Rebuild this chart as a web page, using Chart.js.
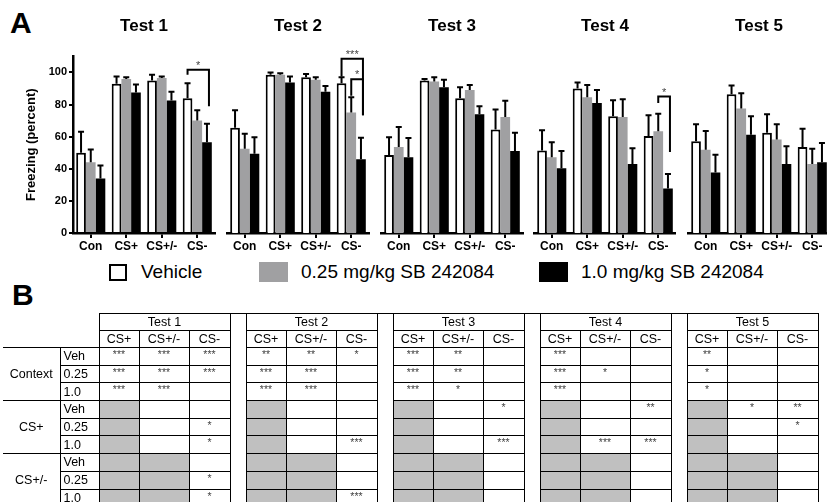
<!DOCTYPE html>
<html>
<head>
<meta charset="utf-8">
<script src="https://cdn.jsdelivr.net/npm/chart.js@4.4.1/dist/chart.umd.min.js"></script>
<style>
  body { margin: 0; background: #fff; font-family: "Liberation Sans", Arial, sans-serif; }
  #page { position: relative; width: 827px; height: 502px; overflow: hidden; background: #fff; }
  .letter { position: absolute; font-weight: bold; font-size: 30px; line-height: 1; }
  canvas.test { position: absolute; top: 0; }
  .legend-item { position: absolute; top: 262px; height: 20px; display: flex; align-items: center; font-size: 19px; white-space: nowrap; }
  .legend-box { box-sizing: border-box; margin-right: 13px; }
  #sig { position: absolute; left: 3px; top: 313px; border-collapse: collapse; table-layout: fixed; width: 815px; font-size: 12.5px; color: #000; will-change: transform; }
  #sig td { padding: 0; height: 16px; line-height: 14px; text-align: center; white-space: nowrap; overflow: hidden; }
  #sig tr.data td { height: 15.7px; }
  #sig td.hd { border: 1px solid #000; }
  #sig td.top { border-top: 1.5px solid #000; }
  #sig td.sp { border-left: 1px solid #000; border-right: 1px solid #000; }
  #sig td.grp { border-top: 1.5px solid #000; border-bottom: 1.5px solid #000; }
  #sig td.dose { border: 1px solid #000; text-align: left; padding-left: 3px; }
  #sig td.first { border-top: 1.5px solid #000; }
  #sig td.cell { border: 1px solid #000; vertical-align: top; font-size: 10.5px; color: #444; line-height: 11px; padding-top: 1px; }
  #sig td.gray { background: #c0c0c0; }
</style>
</head>
<body>
<div id="page">
  <div class="letter" style="left:10px; top:8px;">A</div>
  <div class="letter" style="left:12px; top:280px;">B</div>
  <div id="legend"></div>
  <table id="sig"></table>
</div>
<script>
// ---- Panel A data (freezing %, mean and SEM) ----
const categories = ['Con', 'CS+', 'CS+/-', 'CS-'];
const testNames = ['Test 1', 'Test 2', 'Test 3', 'Test 4', 'Test 5'];
const doseLabels = ['Vehicle', '0.25 mg/kg SB 242084', '1.0 mg/kg SB 242084'];
const yTicks = [0, 20, 40, 60, 80, 100];

// one row per test, one value per category
const vehicleMean = [
  [50, 93, 95, 84],
  [65.5, 98.5, 97, 93.3],
  [48.6, 95, 84, 64.4],
  [51.4, 90, 72.7, 60.4],
  [57.2, 86.4, 62.5, 53.5]
];
const vehicleSem = [
  [13, 4.5, 3.5, 9.3],
  [11, 1.5, 2, 3.7],
  [11, 1, 6.8, 12.6],
  [12.6, 3.7, 10, 13],
  [10.5, 5.4, 11.5, 11.5]
];
const lowDoseMean = [
  [44, 96, 96.5, 70],
  [52.4, 98.5, 95.4, 75],
  [53.5, 94.3, 89, 72.3],
  [47.2, 84.5, 72.3, 63.3],
  [51.8, 77.6, 58.3, 43]
];
const lowDoseSem = [
  [8, 1, 1, 6.5],
  [9.4, 1, 1.6, 9.5],
  [12.5, 2.7, 3.2, 10],
  [9.4, 7.7, 11, 11],
  [11.7, 9.4, 9.4, 9.4]
];
const highDoseMean = [
  [34, 87.5, 82.5, 56.5],
  [49.3, 93.7, 88, 46],
  [47.2, 90.8, 74, 51],
  [40.3, 81, 43, 27.7],
  [37.7, 61.2, 43, 44]
];
const highDoseSem = [
  [8, 5, 5.5, 11.5],
  [10.4, 3.8, 3.6, 13.3],
  [12, 4.6, 5, 11.5],
  [10.7, 8, 9.8, 9],
  [11, 11.5, 11, 12]
];

// significance brackets: test, category, from dose, to dose, top, leg ends, label
const brackets = [
  { test: 0, cat: 3, from: 0, to: 2, top: 101.7, leftEnd: 98.6, rightEnd: 79, label: '*' },
  { test: 1, cat: 3, from: 0, to: 2, top: 108.6, leftEnd: 97.5, rightEnd: 73.4, label: '***' },
  { test: 1, cat: 3, from: 1, to: 2, top: 95.8, leftEnd: 85.5, rightEnd: 73.4, label: '*' },
  { test: 3, cat: 3, from: 1, to: 2, top: 85, leftEnd: 81, rightEnd: 50.4, label: '*' }
];

// ---- Panel B data ----
const rowGroups = ['Context', 'CS+', 'CS+/-'];
const doseRows = ['Veh', '0.25', '1.0'];
const compareCols = ['CS+', 'CS+/-', 'CS-'];
// per test: 9 rows (group x dose), 3 columns
const significance = [
  [['***','***','***'],['***','***','***'],['***','***',''],['','',''],['','','*'],['','','*'],['','',''],['','','*'],['','','*']],
  [['**','**','*'],['***','***',''],['***','***',''],['','',''],['','',''],['','','***'],['','',''],['','',''],['','','***']],
  [['***','**',''],['***','**',''],['***','*',''],['','','*'],['','',''],['','','***'],['','',''],['','',''],['','','']],
  [['***','',''],['***','*',''],['***','',''],['','','**'],['','',''],['','***','***'],['','',''],['','',''],['','','']],
  [['**','',''],['*','',''],['*','',''],['','*','**'],['','','*'],['','',''],['','',''],['','',''],['','','']]
];

// ---- layout ----
const panelLeft = [73, 227, 381, 534, 688];
const titleShift = [0, -2, -3, -6, -11];
const plotWidth = 142;
const canvasHeight = 256;
const barFill = ['#ffffff', '#a0a0a2', '#000000'];
const means = [vehicleMean, lowDoseMean, highDoseMean];
const sems = [vehicleSem, lowDoseSem, highDoseSem];
const fontFamily = '"Liberation Sans", Arial, sans-serif';

const errorBars = {
  id: 'errorBars',
  afterDatasetsDraw(chart) {
    const ctx = chart.ctx;
    const y = chart.scales.y;
    ctx.save();
    ctx.strokeStyle = '#000';
    ctx.lineWidth = 2;
    chart.data.datasets.forEach((ds, d) => {
      chart.getDatasetMeta(d).data.forEach((bar, k) => {
        const top = y.getPixelForValue(ds.data[k] + ds.errors[k]);
        const half = 3;
        ctx.beginPath();
        ctx.moveTo(bar.x, bar.y);
        ctx.lineTo(bar.x, top);
        ctx.moveTo(bar.x - half, top);
        ctx.lineTo(bar.x + half, top);
        ctx.stroke();
      });
    });
    ctx.restore();
  }
};

function bracketPlugin(list) {
  return {
    id: 'brackets',
    afterDatasetsDraw(chart) {
      const ctx = chart.ctx;
      const y = chart.scales.y;
      ctx.save();
      ctx.strokeStyle = '#000';
      ctx.lineWidth = 2;
      ctx.fillStyle = '#444';
      ctx.font = '11px ' + fontFamily;
      ctx.textAlign = 'center';
      ctx.textBaseline = 'alphabetic';
      list.forEach(b => {
        const x1 = chart.getDatasetMeta(b.from).data[b.cat].x;
        const x2 = chart.getDatasetMeta(b.to).data[b.cat].x + 2;
        const yt = y.getPixelForValue(b.top);
        ctx.beginPath();
        ctx.moveTo(x1, y.getPixelForValue(b.leftEnd));
        ctx.lineTo(x1, yt);
        ctx.lineTo(x2, yt);
        ctx.lineTo(x2, y.getPixelForValue(b.rightEnd));
        ctx.stroke();
        ctx.fillText(b.label, (x1 + x2) / 2, yt - 1);
      });
      ctx.restore();
    }
  };
}

const page = document.getElementById('page');

testNames.forEach((name, i) => {
  const first = i === 0;
  const yWidth = first ? 73 : 0;
  // asymmetric padding so the full-width title sits where the figure has it
  const padRight = first ? 6 : Math.max(0, 6 + titleShift[i]);
  const padLeft = first ? 0 : padRight - 2 * titleShift[i];
  const width = yWidth + padLeft + plotWidth + padRight;
  const canvas = document.createElement('canvas');
  canvas.className = 'test';
  canvas.width = width;
  canvas.height = canvasHeight;
  canvas.style.left = (panelLeft[i] - yWidth - padLeft) + 'px';
  canvas.style.width = width + 'px';
  canvas.style.height = canvasHeight + 'px';
  page.appendChild(canvas);

  new Chart(canvas, {
    type: 'bar',
    data: {
      labels: categories,
      datasets: doseLabels.map((label, d) => ({
        label: label,
        data: means[d][i],
        errors: sems[d][i],
        backgroundColor: barFill[d],
        borderColor: '#000',
        borderWidth: d === 0 ? 2 : 0,
        categoryPercentage: 0.82,
        barPercentage: 1.0
      }))
    },
    options: {
      responsive: false,
      animation: false,
      devicePixelRatio: 1,
      layout: { padding: { left: padLeft, right: padRight, top: 0, bottom: 0 } },
      plugins: {
        legend: { display: false },
        tooltip: { enabled: false },
        title: {
          display: true,
          text: name,
          fullSize: !first,
          color: '#000',
          font: { size: 17, weight: 'bold', family: fontFamily },
          padding: { top: 16, bottom: 20 }
        }
      },
      scales: {
        x: {
          afterFit(scale) { scale.height = 23; },
          border: { display: true, color: '#000', width: 2.5 },
          grid: { offset: false, drawOnChartArea: false, drawTicks: true, tickLength: 5, color: '#000', lineWidth: 2 },
          ticks: {
            color: '#000', padding: 1, autoSkip: false, maxRotation: 0, minRotation: 0,
            font: { size: 12, weight: 'bold', family: fontFamily }
          }
        },
        y: {
          display: first,
          min: 0,
          max: 110,
          afterFit(scale) { scale.width = yWidth; },
          afterBuildTicks(scale) { scale.ticks = yTicks.map(v => ({ value: v })); },
          border: { display: true, color: '#000', width: 2.5 },
          grid: { drawOnChartArea: false, drawTicks: true, tickLength: 4, color: '#000', lineWidth: 2 },
          ticks: { color: '#000', padding: 2, font: { size: 11, weight: 'bold', family: fontFamily } },
          title: {
            display: true,
            text: 'Freezing (percent)',
            color: '#000',
            padding: { top: 24, bottom: 0 },
            font: { size: 13, weight: 'bold', family: fontFamily }
          }
        }
      }
    },
    plugins: [errorBars, bracketPlugin(brackets.filter(b => b.test === i))]
  });
});

// ---- legend ----
const legendLeft = [109, 259, 539];
const legendBox = [
  { w: 18, h: 17, bg: '#fff', border: '2.5px solid #000' },
  { w: 29, h: 20, bg: barFill[1], border: 'none' },
  { w: 29, h: 20, bg: barFill[2], border: 'none' }
];
const legend = document.getElementById('legend');
doseLabels.forEach((label, d) => {
  const item = document.createElement('div');
  item.className = 'legend-item';
  item.style.left = legendLeft[d] + 'px';
  const box = document.createElement('span');
  box.className = 'legend-box';
  box.style.width = legendBox[d].w + 'px';
  box.style.height = legendBox[d].h + 'px';
  box.style.background = legendBox[d].bg;
  box.style.border = legendBox[d].border;
  if (d === 0) box.style.marginRight = '14px';
  item.appendChild(box);
  item.appendChild(document.createTextNode(label));
  legend.appendChild(item);
});

// ---- significance table ----
const colWidths = [57, 39];
testNames.forEach((t, i) => {
  colWidths.push(40, 50, 41);
  if (i < testNames.length - 1) colWidths.push(16);
});
let html = '<colgroup>' + colWidths.map(w => '<col style="width:' + w + 'px">').join('') + '</colgroup>';

html += '<tr><td></td><td></td>';
testNames.forEach((t, i) => {
  html += '<td colspan="3" class="hd top">' + t + '</td>';
  if (i < testNames.length - 1) html += '<td class="sp top"></td>';
});
html += '</tr><tr><td></td><td></td>';
testNames.forEach((t, i) => {
  compareCols.forEach(c => { html += '<td class="hd">' + c + '</td>'; });
  if (i < testNames.length - 1) html += '<td class="sp"></td>';
});
html += '</tr>';

rowGroups.forEach((g, gi) => {
  doseRows.forEach((dose, di) => {
    const r = gi * 3 + di;
    html += '<tr class="data">';
    if (di === 0) html += '<td rowspan="3" class="grp">' + g + '</td>';
    html += '<td class="dose' + (di === 0 ? ' first' : '') + '">' + dose + '</td>';
    significance.forEach((sig, i) => {
      compareCols.forEach((c, ci) => {
        const gray = gi > 0 && ci < gi;
        const cls = 'cell' + (gray ? ' gray' : '') + (di === 0 ? ' first' : '');
        html += '<td class="' + cls + '">' + (gray ? '' : sig[r][ci]) + '</td>';
      });
      if (i < significance.length - 1) html += '<td class="sp"></td>';
    });
    html += '</tr>';
  });
});
document.getElementById('sig').innerHTML = html;
</script>
</body>
</html>
